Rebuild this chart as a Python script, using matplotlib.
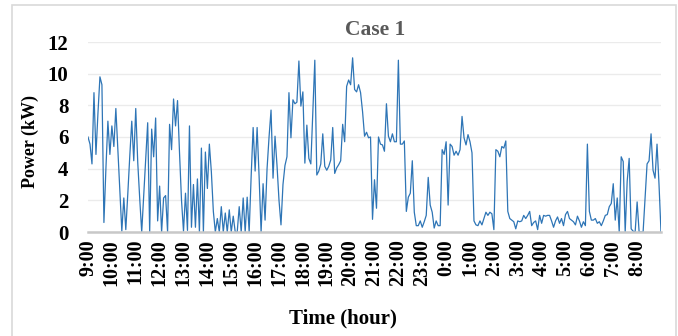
import matplotlib
matplotlib.use('Agg')
import matplotlib.pyplot as plt
from matplotlib.patches import Rectangle

# 5-minute power readings over one day, starting at 9:00
power_kw = [
    6.0, 5.55, 4.3, 8.8, 4.9, 7.5, 9.8, 9.3, 0.6, 4.0, 7.0, 4.9,
    6.7, 5.4, 7.8, 5.2, 2.6, 0.05, 2.15, 0.15, 2.4, 4.8, 7.0, 4.5,
    7.8, 4.4, 2.1, 0.0, 2.3, 4.7, 6.9, 0.0, 6.5, 4.75, 7.2, 0.7,
    2.9, 0.0, 2.15, 2.3, 0.0, 6.8, 5.2, 8.4, 6.7, 8.3, 5.0, 2.0,
    0.05, 2.45, 0.1, 6.7, 0.3, 3.0, 0.3, 3.35, 0.0, 5.3, 0.0, 5.05,
    2.75, 5.55, 3.8, 1.3, 0.0, 0.85, 0.0, 1.6, 0.0, 1.2, 0.0, 1.4,
    0.0, 1.0, 0.0, 0.0, 1.6, 0.0, 2.15, 0.0, 2.2, 0.0, 3.5, 6.6,
    3.85, 6.6, 3.5, 0.0, 3.05, 0.75, 4.0, 6.0, 7.7, 3.4, 6.05, 4.2,
    2.0, 0.45, 3.0, 4.2, 4.75, 8.8, 5.95, 8.35, 8.1, 8.2, 10.8, 7.95,
    8.85, 4.35, 6.75, 4.65, 4.3, 7.6, 10.85, 3.6, 3.85, 4.3, 6.2, 4.15,
    3.9, 4.15, 4.55, 6.6, 3.7, 4.05, 4.25, 4.5, 6.8, 5.7, 9.2, 9.6,
    9.3, 11.0, 9.0, 8.85, 9.3, 8.8, 7.6, 6.05, 6.3, 5.95, 6.0, 0.8,
    3.3, 1.5, 6.0, 5.55, 5.5, 5.1, 8.1, 6.05, 5.7, 6.2, 5.7, 5.7,
    10.85, 5.55, 5.55, 5.75, 1.3, 2.2, 2.45, 4.5, 1.25, 0.4, 0.4, 0.7,
    0.3, 0.65, 1.05, 3.45, 1.7, 1.25, 0.25, 0.7, 0.4, 0.4, 5.2, 4.9,
    5.7, 1.7, 5.55, 5.4, 4.85, 5.1, 4.85, 5.2, 7.3, 5.95, 5.5, 6.15,
    5.7, 5.0, 0.7, 0.45, 0.4, 0.7, 0.45, 0.85, 1.25, 1.05, 1.25, 1.15,
    0.15, 5.2, 5.1, 4.75, 5.4, 5.3, 5.75, 1.3, 0.85, 0.75, 0.65, 0.2,
    0.7, 0.65, 0.7, 1.05, 0.85, 1.05, 1.3, 0.4, 0.6, 0.7, 0.15, 1.05,
    0.55, 1.05, 1.0, 1.05, 1.05, 0.7, 0.3, 0.7, 0.95, 0.55, 0.85, 0.4,
    1.1, 1.3, 0.85, 0.75, 0.65, 0.45, 1.0, 0.7, 0.3, 0.65, 0.4, 5.55,
    1.3, 0.75, 0.75, 0.85, 0.55, 0.65, 0.4, 0.7, 1.05, 1.1, 1.6, 1.8,
    3.05, 0.75, 2.15, 0.0, 4.75, 4.45, 0.0, 3.2, 4.65, 0.2, 0.05, 0.0,
    1.9, 0.0, 0.0, 0.0, 2.1, 4.3, 4.5, 6.2, 3.9, 3.4, 5.55, 3.0,
    0.0,
]
hour_labels = ['9:00', '10:00', '11:00', '12:00', '13:00', '14:00', '15:00',
               '16:00', '17:00', '18:00', '19:00', '20:00', '21:00', '22:00',
               '23:00', '0:00', '1:00', '2:00', '3:00', '4:00', '5:00',
               '6:00', '7:00', '8:00']
points_per_hour = 12

font = 'Liberation Serif'

fig = plt.figure(figsize=(6.78, 3.36), dpi=100)
ax = fig.add_axes([88 / 678, 1 - 232 / 336, 573 / 678, 190 / 336])

x = list(range(len(power_kw)))
ax.plot(x, power_kw, color='#2E75B6', linewidth=0.9)

ax.set_xlim(0, len(power_kw) - 1)
ax.set_ylim(0, 12)
ax.set_yticks(range(0, 13, 2))
ax.set_yticklabels([str(v) for v in range(0, 13, 2)],
                   fontfamily=font, fontweight='bold', fontsize=15)
ax.set_xticks([i * points_per_hour for i in range(len(hour_labels))])
ax.set_xticklabels(hour_labels, rotation=90, fontfamily=font,
                   fontweight='bold', fontsize=14.5)
ax.tick_params(length=0)
ax.tick_params(axis='y', pad=14)
ax.tick_params(axis='x', pad=5)

ax.grid(axis='y', color='#EBEBEB', linewidth=1.0)
ax.set_axisbelow(True)
for side in ['left', 'right', 'top']:
    ax.spines[side].set_visible(False)
ax.spines['bottom'].set_color('#C8C8C8')
ax.spines['bottom'].set_linewidth(1.8)

fig.text(375 / 678, 1 - 30 / 336, 'Case 1', ha='center', va='center',
         fontfamily=font, fontweight='bold', fontsize=15.5, color='#595959')
fig.text(30 / 678, 1 - 141 / 336, 'Power (kW)', ha='center', va='center',
         rotation=90, fontfamily=font, fontweight='bold', fontsize=13)
fig.text(343 / 678, 1 - 318 / 336, 'Time (hour)', ha='center', va='center',
         fontfamily=font, fontweight='bold', fontsize=15)

# chart area frame
fig.patches.append(Rectangle((12 / 678, -0.05), 664 / 678, 1.05 - 5 / 336,
                             transform=fig.transFigure, fill=False,
                             edgecolor='#D9D9D9', linewidth=1.2))

fig.savefig('out.png', dpi=100)
